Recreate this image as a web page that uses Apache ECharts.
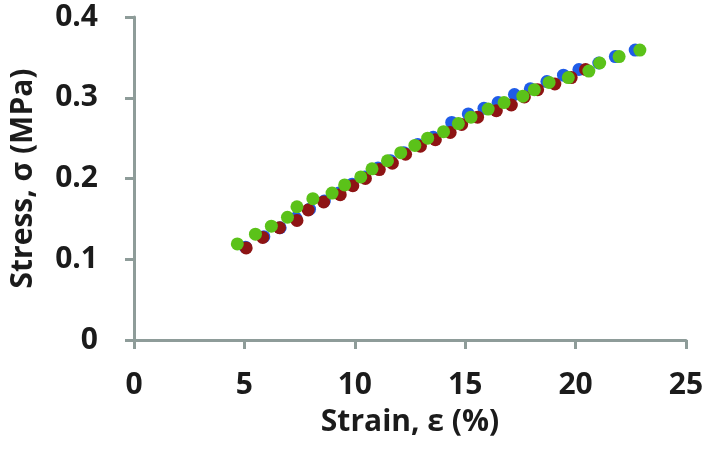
<!DOCTYPE html>
<html>
<head>
<meta charset="utf-8">
<script src="https://cdn.jsdelivr.net/npm/echarts@6/dist/echarts.min.js"></script>
<style>
html,body{margin:0;padding:0;background:#fff;}
#chart{width:708px;height:449px;}
</style>
</head>
<body>
<div id="chart"></div>
<script>
// Series 1 (blue)
var blueX = [5.05, 5.88, 6.62, 7.33, 7.95, 8.62, 9.28, 9.88, 10.45, 11.05, 11.62, 12.22, 12.85, 13.55, 14.39, 15.14, 15.85, 16.49, 17.23, 17.95, 18.70, 19.45, 20.15, 21.05, 21.80, 22.70];
var blueY = [0.115, 0.128, 0.139, 0.151, 0.162, 0.172, 0.182, 0.193, 0.202, 0.213, 0.222, 0.232, 0.242, 0.251, 0.2695, 0.280, 0.287, 0.294, 0.304, 0.311, 0.320, 0.328, 0.335, 0.343, 0.351, 0.359];
// Series 2 (red)
var redX = [5.08, 5.83, 6.59, 7.38, 7.89, 8.59, 9.34, 9.91, 10.48, 11.11, 11.70, 12.30, 12.97, 13.65, 14.32, 14.84, 15.56, 16.41, 17.09, 17.68, 18.28, 19.06, 19.80, 20.45];
var redY = [0.114, 0.127, 0.139, 0.148, 0.161, 0.171, 0.180, 0.191, 0.200, 0.211, 0.219, 0.230, 0.240, 0.248, 0.257, 0.267, 0.276, 0.284, 0.291, 0.301, 0.310, 0.317, 0.325, 0.335];
// Series 3 (green)
var greenX = [4.68, 5.50, 6.22, 6.95, 7.38, 8.10, 8.97, 9.54, 10.27, 10.78, 11.48, 12.08, 12.72, 13.30, 14.02, 14.69, 15.26, 16.04, 16.76, 17.61, 18.13, 18.80, 19.67, 20.60, 21.09, 21.97, 22.91];
var greenY = [0.119, 0.131, 0.141, 0.152, 0.165, 0.175, 0.182, 0.192, 0.202, 0.212, 0.222, 0.232, 0.241, 0.250, 0.258, 0.268, 0.276, 0.286, 0.294, 0.302, 0.310, 0.319, 0.325, 0.333, 0.343, 0.351, 0.359];

var xTitle = 'Strain, ε (%)';
var yTitle = 'Stress, σ (MPa)';

function zip(xs, ys) { return xs.map(function (x, i) { return [x, ys[i]]; }); }

var axisColor = '#8e9c99';
var fontFam = '"Open Sans", sans-serif';
var textColor = '#1b1b1b';
var fs = 30;

var chart = echarts.init(document.getElementById('chart'), null, {renderer: 'canvas'});
chart.setOption({
  animation: false,
  backgroundColor: '#ffffff',
  grid: {left: 129, right: 22, top: 17, bottom: 109, containLabel: false},
  xAxis: {
    type: 'value', min: 0, max: 25, interval: 5,
    name: xTitle, nameLocation: 'middle', nameGap: 67,
    nameTextStyle: {fontFamily: fontFam, fontWeight: 'bold', fontSize: fs, color: textColor},
    axisLine: {show: true, onZero: false, lineStyle: {color: axisColor, width: 3}},
    axisTick: {show: true, inside: false, length: 9, lineStyle: {color: axisColor, width: 3}},
    axisLabel: {margin: 30, fontFamily: fontFam, fontWeight: 'bold', fontSize: fs, color: textColor},
    splitLine: {show: false}
  },
  yAxis: {
    type: 'value', min: 0, max: 0.4, interval: 0.1,
    name: yTitle, nameLocation: 'middle', nameGap: 96,
    nameTextStyle: {fontFamily: fontFam, fontWeight: 'bold', fontSize: fs, color: textColor},
    axisLine: {show: true, onZero: false, lineStyle: {color: axisColor, width: 3}},
    axisTick: {show: true, inside: false, length: 9, lineStyle: {color: axisColor, width: 3}},
    axisLabel: {margin: 36, fontFamily: fontFam, fontWeight: 'bold', fontSize: fs, color: textColor},
    splitLine: {show: false}
  },
  series: [
    {type: 'scatter', name: 'S1', data: zip(blueX, blueY), symbol: 'circle', symbolSize: 13, itemStyle: {color: '#1f5ce8', opacity: 1}},
    {type: 'scatter', name: 'S2', data: zip(redX, redY), symbol: 'circle', symbolSize: 13, itemStyle: {color: '#8e1414', opacity: 1}},
    {type: 'scatter', name: 'S3', data: zip(greenX, greenY), symbol: 'circle', symbolSize: 13, itemStyle: {color: '#5bc219', opacity: 1}}
  ]
});
</script>
</body>
</html>
